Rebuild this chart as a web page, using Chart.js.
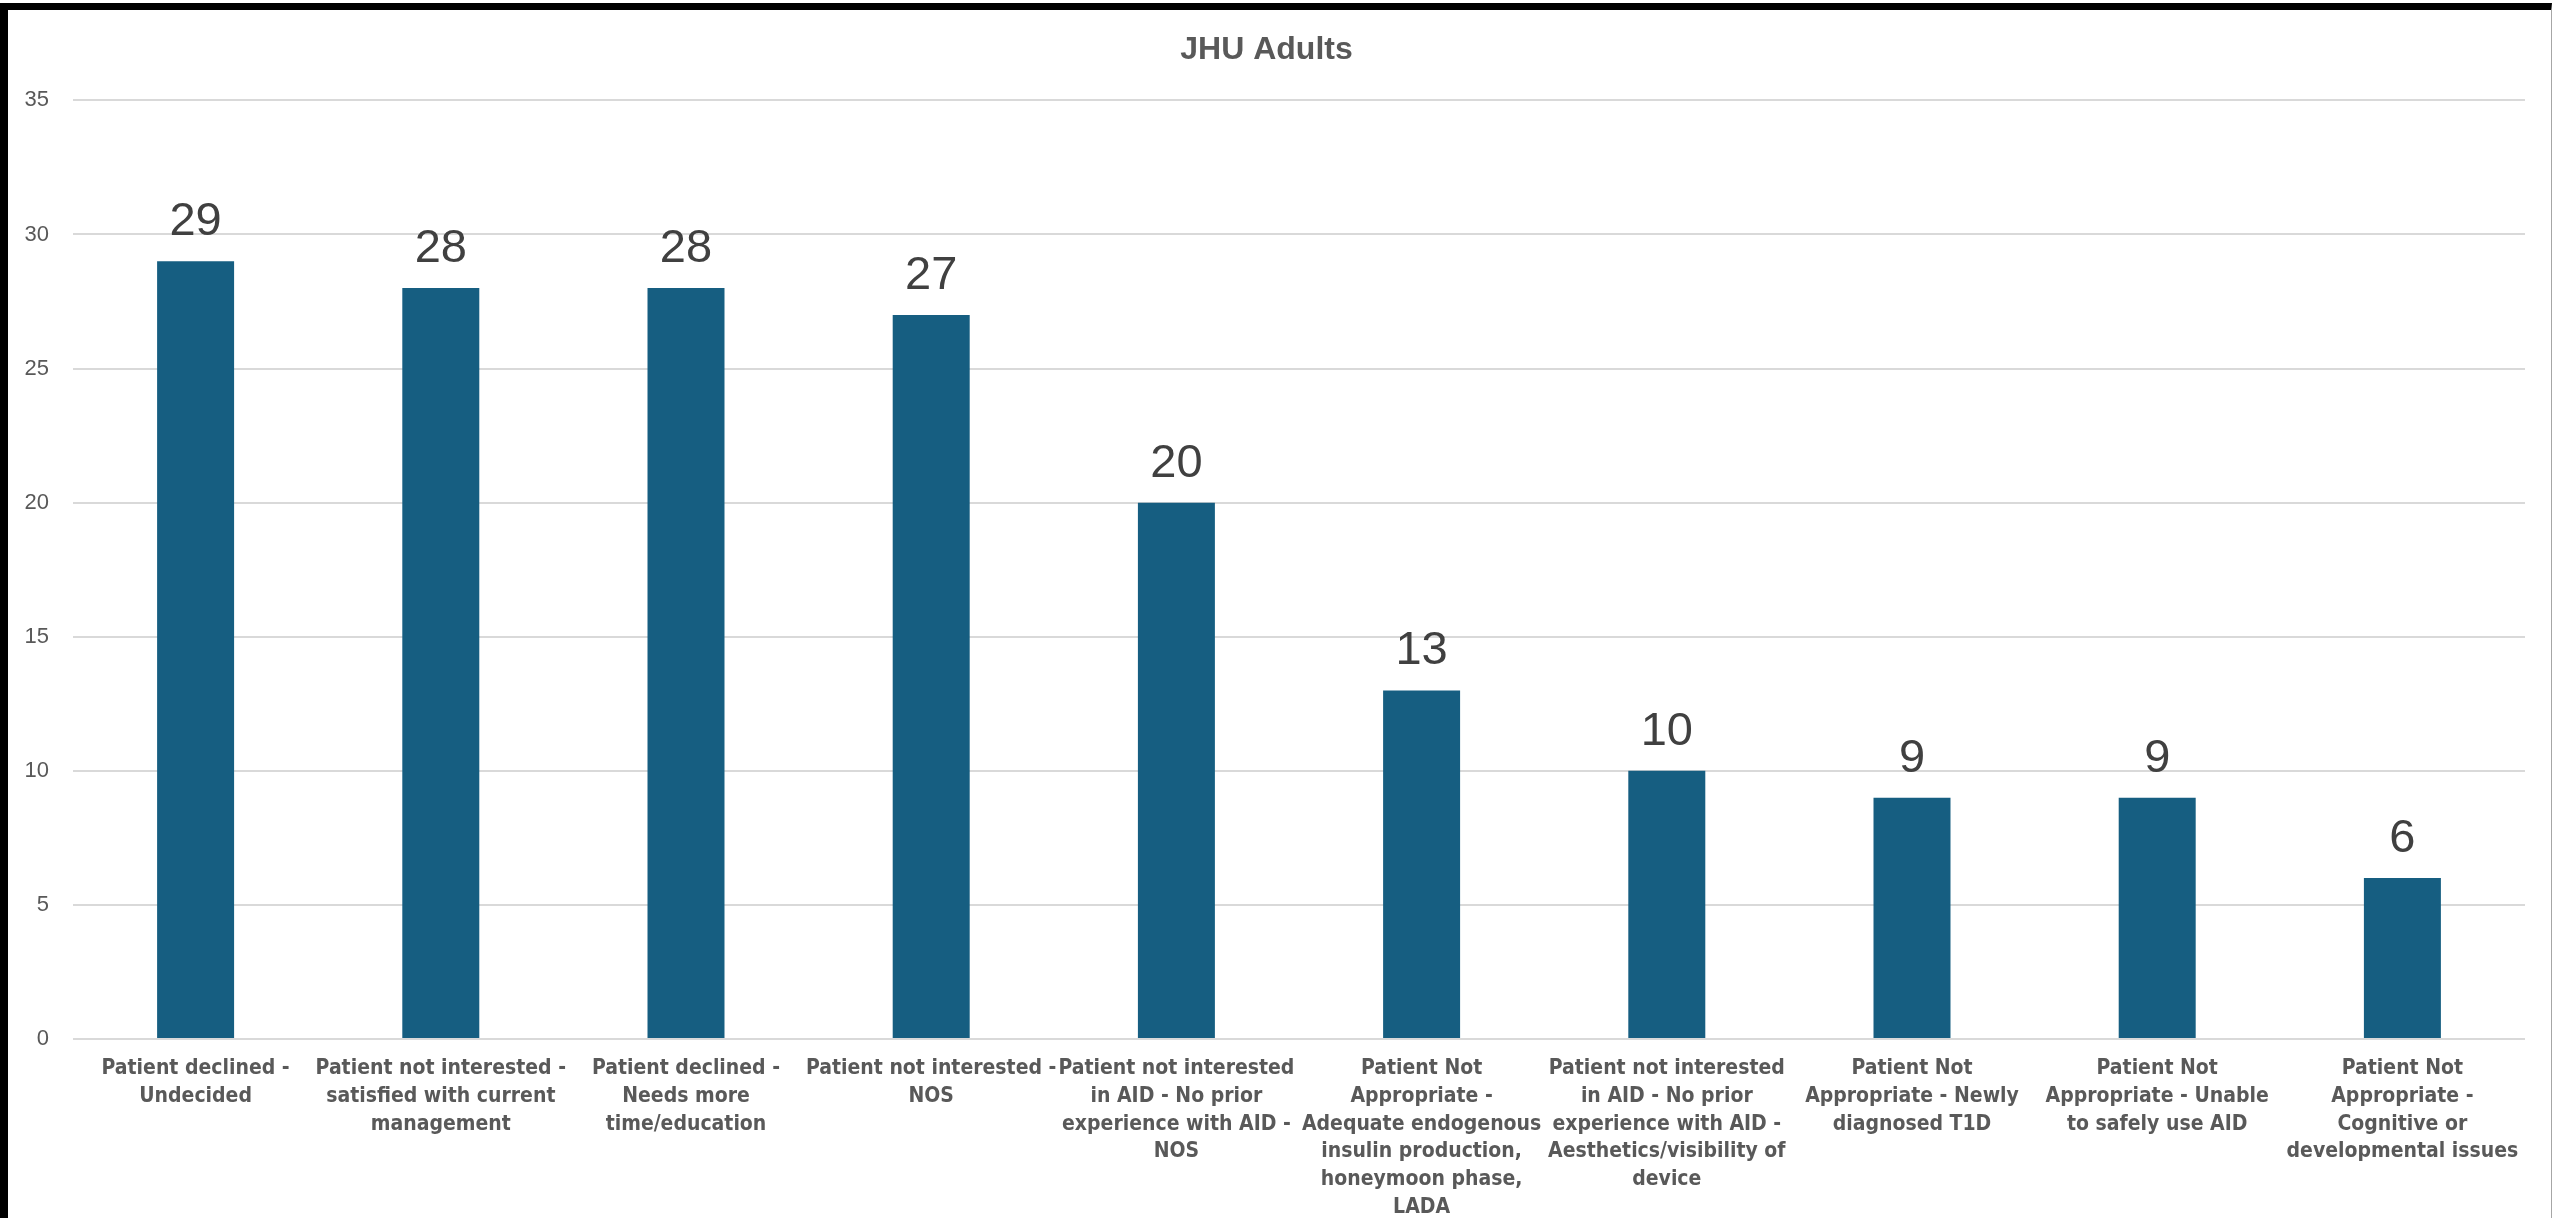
<!DOCTYPE html>
<html>
<head>
<meta charset="utf-8">
<script src="https://cdn.jsdelivr.net/npm/chart.js@4/dist/chart.umd.min.js"></script>
<style>
    html, body { margin: 0; padding: 0; background: #fff; }
    #frame {
        position: absolute;
        left: 0;
        top: 3px;
        width: 2543px;
        height: 1208px;
        border-top: 7px solid #000;
        border-left: 8px solid #000;
        border-right: 1px solid #a6a6a6;
        background: #fff;
    }
    canvas { display: block; }
</style>
</head>
<body>
<div id="frame">
    <canvas id="myChart" width="2543" height="1208"></canvas>
</div>
<script>
var title = "JHU Adults";

//category labels, already wrapped like in the original
var categories = [
    ["Patient declined -", "Undecided"],
    ["Patient not interested -", "satisfied with current", "management"],
    ["Patient declined -", "Needs more", "time/education"],
    ["Patient not interested -", "NOS"],
    ["Patient not interested", "in AID - No prior", "experience with AID -", "NOS"],
    ["Patient Not", "Appropriate -", "Adequate endogenous", "insulin production,", "honeymoon phase,", "LADA"],
    ["Patient not interested", "in AID - No prior", "experience with AID -", "Aesthetics/visibility of", "device"],
    ["Patient Not", "Appropriate - Newly", "diagnosed T1D"],
    ["Patient Not", "Appropriate - Unable", "to safely use AID"],
    ["Patient Not", "Appropriate -", "Cognitive or", "developmental issues"]
];

var counts = [29, 28, 28, 27, 20, 13, 10, 9, 9, 6];

var yMax = 35;
var yStep = 5;

var barColor = "#165e81";
var textGray = "#595959";

//draws the number above every bar
var valueLabels = {
    id: "valueLabels",
    afterDatasetsDraw(chart) {
        var ctx = chart.ctx;
        var meta = chart.getDatasetMeta(0);
        ctx.save();
        ctx.font = "47px 'Liberation Sans', Arial, sans-serif";
        ctx.fillStyle = "#404040";
        ctx.textAlign = "center";
        ctx.textBaseline = "alphabetic";
        meta.data.forEach(function (bar, i) {
            ctx.fillText(String(chart.data.datasets[0].data[i]), bar.x, bar.y - 26);
        });
        ctx.restore();
    }
};

new Chart(document.getElementById("myChart"), {
    type: "bar",
    data: {
        labels: categories,
        datasets: [{
            label: title,
            data: counts,
            backgroundColor: barColor,
            borderWidth: 0,
            categoryPercentage: 1,
            barPercentage: 0.314
        }]
    },
    plugins: [valueLabels],
    options: {
        responsive: false,
        animation: false,
        layout: {
            padding: { left: 0, right: 26, top: 0, bottom: 0 }
        },
        plugins: {
            legend: { display: false },
            tooltip: { enabled: false },
            title: {
                display: true,
                text: title,
                color: textGray,
                font: { family: "'Liberation Sans', Arial, sans-serif", size: 32, weight: "bold" },
                padding: { top: 21, bottom: 31 }
            }
        },
        scales: {
            x: {
                grid: { display: false, drawTicks: false },
                border: { display: false },
                ticks: {
                    color: textGray,
                    maxRotation: 0,
                    autoSkip: false,
                    padding: 16,
                    font: { family: "'DejaVu Sans Condensed', 'DejaVu Sans', sans-serif", size: 21, weight: "bold", lineHeight: 1.32 }
                },
                afterFit: function (axis) {
                    axis.height = 179;
                }
            },
            y: {
                min: 0,
                max: yMax,
                grid: { color: "#d9d9d9", lineWidth: 2, drawTicks: false },
                border: { display: false },
                ticks: {
                    stepSize: yStep,
                    color: textGray,
                    padding: 24,
                    font: { family: "'Liberation Sans', Arial, sans-serif", size: 22 }
                },
                afterFit: function (axis) {
                    axis.width = 65;
                }
            }
        }
    }
});
</script>
</body>
</html>
